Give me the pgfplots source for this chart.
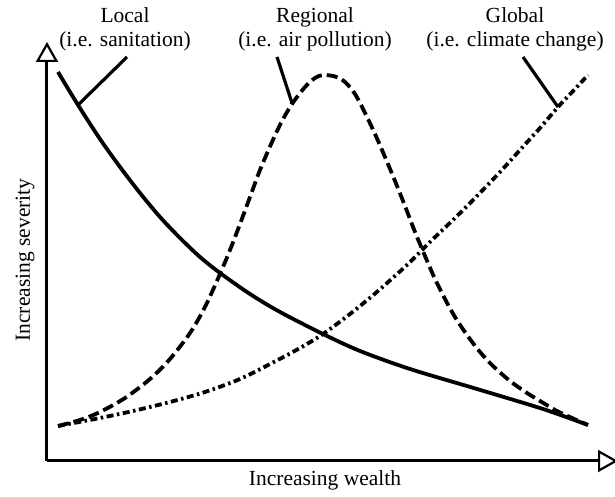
\documentclass[border=0pt]{standalone}
\usepackage{fontspec}
\setmainfont{Liberation Serif}
\usepackage{pgfplots}
\pgfplotsset{compat=1.18}
\usetikzlibrary{arrows.meta}
\newcommand{\lbl}{\fontsize{21.5}{25}\selectfont}
\begin{document}
\begin{tikzpicture}
\begin{axis}[
  at={(47pt,36pt)}, anchor=south west,
  x=1pt, y=1pt,
  xmin=47, xmax=618, ymin=36, ymax=455,
  axis lines=left,
  axis line style={line width=3pt, -{Triangle[open, length=20pt, width=22pt, line width=2.2pt]}},
  xtick=\empty, ytick=\empty,
  clip=false,
]
% Local (solid)
\addplot[black, line width=3.8pt, smooth, tension=0.5] coordinates {
(58,425) (78,392) (100,358) (120,330) (140,304) (160,280) (180,259) (200,240)
(220,224) (250,203) (280,185) (323,163) (360,146) (410,128) (477,108) (543,88) (588,72)};
% Regional (dashed)
\addplot[black, line width=3.8pt, smooth, tension=0.5, dash pattern=on 11pt off 5pt] coordinates {
(58,71) (80,77) (100,85) (125,99) (150,118) (170,138) (190,164) (205,190) (220,223)
(230,247) (240,273) (250,300) (260,327) (272,355) (282,376) (292,393) (305,410)
(315,419) (323,422) (335,420.5) (345,415) (355,403) (365,384) (375,363) (385,340)
(395,316) (405,291) (415,265) (425,241) (435,218) (445,198) (455,180) (467,162)
(480,145) (493,131) (510,116) (527,104) (545,93) (557,86) (572,79) (588,72)};
% Global (dash-dot)
\addplot[black, line width=3.8pt, smooth, tension=0.5, dash pattern=on 7pt off 3.5pt on 2.5pt off 3.5pt] coordinates {
(58,71) (100,79) (133,86) (170,95) (205,105) (240,118) (272,134) (300,149) (323,163)
(350,183) (378,206) (408,233) (430,255) (455,279) (477,301) (500,325) (520,347)
(540,369) (558,390) (575,408) (588,422)};
% leader lines
\addplot[black, line width=3.2pt] coordinates {(127,440) (78,392)};
\addplot[black, line width=3.2pt] coordinates {(277,440) (292,394)};
\addplot[black, line width=3.2pt] coordinates {(523,440) (558,390)};
% labels
\node[anchor=base, font=\lbl] at (axis cs:125,474) {Local};
\node[anchor=base, font=\lbl] at (axis cs:125,450) {(i.e. sanitation)};
\node[anchor=base, font=\lbl] at (axis cs:315,474) {Regional};
\node[anchor=base, font=\lbl] at (axis cs:315,450) {(i.e. air pollution)};
\node[anchor=base, font=\lbl] at (axis cs:515,474) {Global};
\node[anchor=base, font=\lbl] at (axis cs:515,450) {(i.e. climate change)};
\node[anchor=base, font=\lbl] at (axis cs:325,11) {Increasing wealth};
\node[anchor=base, rotate=90, font=\lbl] at (axis cs:30,237) {Increasing severity};
\end{axis}
\pgfresetboundingbox
\path[use as bounding box] (0,0) rectangle (615pt,497pt);
\end{tikzpicture}
\end{document}
